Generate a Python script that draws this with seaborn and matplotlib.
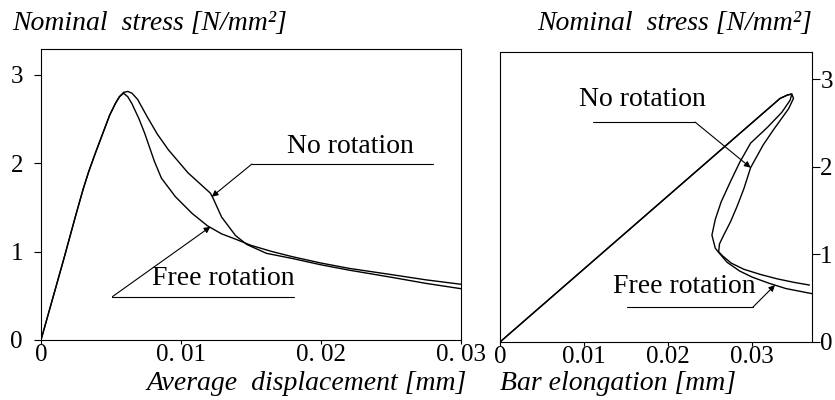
import matplotlib
matplotlib.use("Agg")
import matplotlib.pyplot as plt
import pandas as pd
import seaborn as sns

# ---- Left panel: nominal stress vs average displacement ----
disp_free = [0.0, 0.0016, 0.0025, 0.0030, 0.0034, 0.0039, 0.0044, 0.0049, 0.0053,
             0.0056, 0.0059, 0.0062, 0.0065, 0.0070, 0.0074, 0.0081, 0.0086,
             0.0096, 0.0108, 0.0119, 0.0129, 0.0139, 0.0150, 0.0165, 0.0180,
             0.0200, 0.0220, 0.0250, 0.0275, 0.0300]
stress_free = [0.0, 0.90, 1.42, 1.70, 1.90, 2.12, 2.33, 2.54, 2.67,
               2.75, 2.79, 2.75, 2.67, 2.50, 2.34, 2.02, 1.83,
               1.62, 1.43, 1.29, 1.20, 1.14, 1.07, 1.00, 0.94,
               0.87, 0.81, 0.74, 0.68, 0.63]

disp_norot = [0.0, 0.0016, 0.0025, 0.0030, 0.0034, 0.0039, 0.0044, 0.0049, 0.0053,
              0.0056, 0.0059, 0.0062, 0.0065, 0.0069, 0.0076, 0.0083, 0.0091,
              0.0105, 0.0121, 0.0123, 0.0129, 0.0139, 0.0147, 0.0161, 0.0180,
              0.0200, 0.0220, 0.0250, 0.0275, 0.0300]
stress_norot = [0.0, 0.90, 1.42, 1.70, 1.90, 2.12, 2.33, 2.54, 2.67,
                2.75, 2.80, 2.81, 2.79, 2.72, 2.52, 2.33, 2.15,
                1.89, 1.66, 1.60, 1.39, 1.18, 1.08, 0.98, 0.92,
                0.85, 0.79, 0.71, 0.64, 0.58]

# ---- Right panel: nominal stress vs bar elongation (snap-back) ----
elong_free = [0.0, 0.0333, 0.0342, 0.0347, 0.0345, 0.0335, 0.0318, 0.0298, 0.0285,
              0.0274, 0.0263, 0.0256, 0.0252, 0.0256, 0.0262, 0.0270, 0.0285,
              0.0300, 0.0320, 0.0340, 0.0372]
stress_free_b = [0.0, 2.78, 2.82, 2.83, 2.76, 2.62, 2.45, 2.27, 2.05,
                 1.83, 1.60, 1.40, 1.22, 1.07, 1.00, 0.91, 0.81,
                 0.74, 0.67, 0.61, 0.55]

elong_norot = [0.0, 0.0333, 0.0342, 0.0347, 0.0349, 0.0343, 0.0325, 0.0313, 0.0298,
               0.0290, 0.0282, 0.0274, 0.0266, 0.0261, 0.0260, 0.0265, 0.0275,
               0.0290, 0.0310, 0.0330, 0.0350, 0.0368]
stress_norot_b = [0.0, 2.78, 2.82, 2.83, 2.78, 2.66, 2.42, 2.25, 1.99,
                  1.75, 1.55, 1.37, 1.22, 1.12, 1.03, 0.98, 0.90,
                  0.83, 0.77, 0.72, 0.68, 0.65]

left_xticks = [0.0, 0.01, 0.02, 0.03]
left_xticklabels = ["0", "0. 01", "0. 02", "0. 03"]
right_xticks = [0.0, 0.01, 0.02, 0.03]
right_xticklabels = ["0", "0.01", "0.02", "0.03"]
yticks = [0, 1, 2, 3]
yticklabels = ["0", "1", "2", "3"]

ylabel_text = "Nominal  stress [N/mm²]"
left_xlabel = "Average  displacement [mm]"
right_xlabel = "Bar elongation [mm]"
label_norot = "No rotation"
label_free = "Free rotation"

sns.set_theme(style="white")
plt.rcParams["font.family"] = ["Liberation Serif", "DejaVu Serif"]
plt.rcParams["text.color"] = "black"
plt.rcParams["axes.edgecolor"] = "black"
plt.rcParams["axes.linewidth"] = 0.8

fig = plt.figure(figsize=(8.35, 4.0), dpi=100)
ax1 = fig.add_axes([41 / 835, 60 / 400, 420 / 835, 291 / 400])
ax2 = fig.add_axes([500 / 835, 58 / 400, 312 / 835, 290 / 400])

line_kw = dict(sort=False, estimator=None, color="black", linewidth=1.0, legend=False)


def curve(ax, xs, ys):
    df = pd.DataFrame({"x": xs, "y": ys})
    sns.lineplot(data=df, x="x", y="y", ax=ax, **line_kw)


curve(ax1, disp_free, stress_free)
curve(ax1, disp_norot, stress_norot)
curve(ax2, elong_free, stress_free_b)
curve(ax2, elong_norot, stress_norot_b)

for ax in (ax1, ax2):
    ax.set_xlabel("")
    ax.set_ylabel("")
    for s in ax.spines.values():
        s.set_visible(True)
        s.set_color("black")
        s.set_linewidth(0.8)

ax1.set_xlim(0, 0.03)
ax1.set_ylim(0, 3.29)
ax2.set_xlim(0, 0.0371)
ax2.set_ylim(0, 3.31)

ax1.set_xticks(left_xticks, left_xticklabels)
ax1.set_yticks(yticks, yticklabels)
ax2.set_xticks(right_xticks, right_xticklabels)
ax2.set_yticks(yticks, yticklabels)

tick_kw = dict(labelsize=18, color="black", labelcolor="black", width=0.8)
ax1.tick_params(axis="x", direction="out", length=3, pad=0, bottom=True, **tick_kw)
ax1.tick_params(axis="y", direction="out", length=5, pad=8, left=True, **tick_kw)
ax2.tick_params(axis="x", direction="out", length=3, pad=0, bottom=True, **tick_kw)
ax2.yaxis.tick_right()
ax2.tick_params(axis="y", direction="out", length=6, pad=0, right=True, left=False, **tick_kw)

# axis titles
fig.text(12 / 835, 1 - 30 / 400, ylabel_text, fontsize=20, style="italic",
         ha="left", va="baseline")
fig.text(812 / 835, 1 - 30 / 400, ylabel_text, fontsize=20, style="italic",
         ha="right", va="baseline")
fig.text(307 / 835, 10 / 400, left_xlabel, fontsize=20, style="italic",
         ha="center", va="baseline")
fig.text(618 / 835, 10 / 400, right_xlabel, fontsize=20, style="italic",
         ha="center", va="baseline")

arrow = dict(arrowstyle="-|>", color="black", lw=0.8, mutation_scale=9,
             shrinkA=0, shrinkB=0)


def callout(ax, text, text_xy, line_x0, line_x1, line_y, corner_x, tip_xy):
    ax.text(text_xy[0], text_xy[1], text, fontsize=20, ha="center", va="baseline")
    ax.plot([line_x0, line_x1], [line_y, line_y], color="black", lw=0.8)
    ax.annotate("", xy=tip_xy, xytext=(corner_x, line_y), arrowprops=arrow)


callout(ax1, label_norot, (0.0221, 2.11), 0.01507, 0.0280, 1.99, 0.01507, (0.0122, 1.62))
callout(ax1, label_free, (0.0130, 0.62), 0.0051, 0.0181, 0.49, 0.0051, (0.0121, 1.28))
callout(ax2, label_norot, (0.0169, 2.69), 0.0111, 0.0232, 2.51, 0.0232, (0.0298, 1.99))
callout(ax2, label_free, (0.0219, 0.56), 0.0151, 0.0301, 0.40, 0.0301, (0.0327, 0.65))

fig.savefig("out.png", dpi=100)
